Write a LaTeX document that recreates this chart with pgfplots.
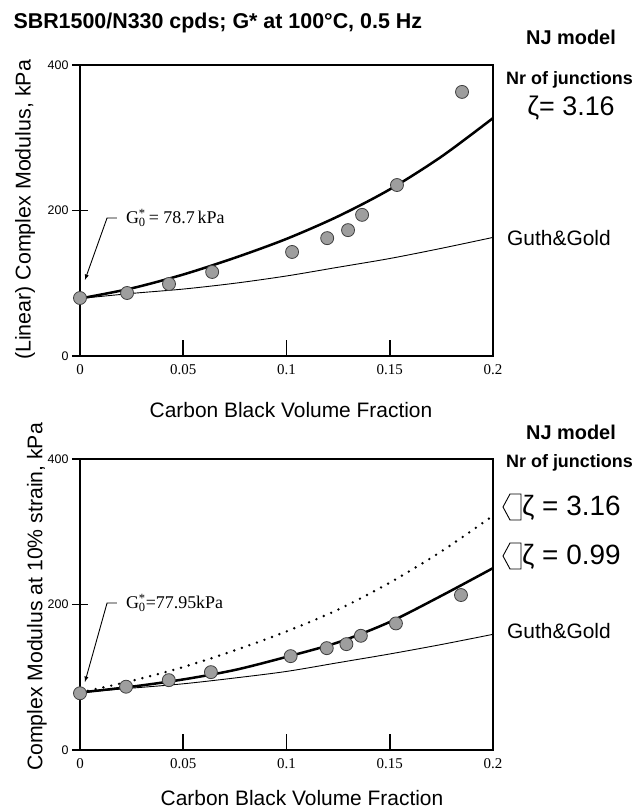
\documentclass[border=0pt]{standalone}
\usepackage{fontspec}
\setmainfont{Liberation Sans}
\newfontfamily\serif{Liberation Serif}
\usepackage{pgfplots}
\pgfplotsset{compat=1.18}

\pgfplotsset{
  cbaxis/.style={
    scale only axis, width=413bp, height=291bp,
    xmin=0, xmax=0.2, ymin=0, ymax=400,
    axis line style={line width=2.2bp},
    xtick={0,0.05,0.1,0.15,0.2}, xticklabels={0,0.05,0.1,0.15,0.2},
    ytick={0,200,400},
    tickpos=left, tick align=inside, ytick align=center,
    major tick length=16bp,
    tick style={black, line width=1.8bp},
    /pgf/number format/assume math mode=true,
    xticklabel style={font=\serif\fontsize{15}{15}\selectfont, yshift=-5bp},
    yticklabel style={font=\fontsize{12.5}{12.5}\selectfont},
    clip=false,
  },
  nj/.style={black, line width=2.5bp, smooth, no marks},
  gg/.style={black, line width=0.9bp, smooth, no marks},
  dat/.style={only marks, mark=*, mark size=6.5bp,
    mark options={fill=black!38, draw=black!75, line width=0.8bp}},
}

\begin{document}
\begin{tikzpicture}
\useasboundingbox (0,0) rectangle (637bp,810bp);

% top: linear complex modulus
\begin{axis}[cbaxis, at={(80bp,454bp)}, anchor=south west]
  \addplot[gg] coordinates {(0,79) (0.025,86) (0.05,92) (0.075,100) (0.1,110)
    (0.125,122) (0.15,134) (0.175,148) (0.2,163)};
  \addplot[nj] coordinates {(0,79) (0.025,93) (0.05,112) (0.075,135) (0.1,161)
    (0.125,192) (0.15,229) (0.175,274) (0.2,327)};
  \addplot[dat] coordinates {(0,79.7) (0.0228,86.6) (0.0431,99) (0.064,115.5)
    (0.1027,143) (0.1197,162) (0.1298,173) (0.1366,194) (0.1535,235) (0.185,363)};
  \pgfplotsinvokeforeach{0.05,0.1,0.15}{
    \draw[line width=1.8bp] (axis cs:#1,0) -- ([yshift=16bp]axis cs:#1,0);}
  \draw[line width=1.8bp] (axis cs:0,200) -- ([xshift=8bp]axis cs:0,200);
  \draw[-latex, line width=0.9bp] (axis cs:0.0179,189.7) -- (axis cs:0.0131,189.7)
    -- (axis cs:0.0024,104.5);
  \node[anchor=west, inner sep=0, font=\serif\fontsize{18}{18}\selectfont]
    at (axis cs:0.0222,189.7) {G\rlap{\textsuperscript{*}}\textsubscript{0}\,= 78.7\,kPa};
\end{axis}

% bottom: complex modulus at 10% strain
\begin{axis}[cbaxis, at={(80bp,60bp)}, anchor=south west]
  \addplot[gg] coordinates {(0,79) (0.025,85) (0.05,91) (0.075,99) (0.1,108)
    (0.125,120) (0.15,132) (0.175,145) (0.2,159)};
  \addplot[black, line width=2.7bp, smooth, no marks, line cap=round,
    dash pattern=on 0bp off 8bp] coordinates {(0,79) (0.025,95) (0.05,114)
    (0.075,137) (0.1,163) (0.125,193) (0.15,230) (0.175,273) (0.2,322)};
  \addplot[nj] coordinates {(0,79) (0.025,87) (0.05,97) (0.075,110) (0.1,128)
    (0.125,148) (0.15,176) (0.175,212) (0.2,250)};
  \addplot[dat] coordinates {(0,78) (0.0223,87) (0.043,96) (0.0634,107)
    (0.102,129) (0.1195,140) (0.129,145.5) (0.136,157) (0.153,174) (0.1845,213)};
  \pgfplotsinvokeforeach{0.05,0.1,0.15}{
    \draw[line width=1.8bp] (axis cs:#1,0) -- ([yshift=16bp]axis cs:#1,0);}
  \draw[line width=1.8bp] (axis cs:0,200) -- ([xshift=8bp]axis cs:0,200);
  \draw[-latex, line width=0.9bp] (axis cs:0.0179,202) -- (axis cs:0.0131,202)
    -- (axis cs:0.0024,93.5);
  \node[anchor=west, inner sep=0, font=\serif\fontsize{18}{18}\selectfont]
    at (axis cs:0.0222,202) {G\rlap{\textsuperscript{*}}\textsubscript{0}=77.95kPa};
\end{axis}

% titles and labels
\node[anchor=west, font=\fontsize{21.5}{24}\selectfont\bfseries]
  at (10bp,787bp) {SBR1500/N330 cpds; G* at 100°C, 0.5 Hz};
\node[font=\fontsize{21}{24}\selectfont] at (291bp,400bp) {Carbon Black Volume Fraction};
\node[font=\fontsize{21}{24}\selectfont] at (302bp,12bp) {Carbon Black Volume Fraction};
\node[rotate=90, font=\fontsize{21.5}{24}\selectfont] at (25bp,600bp) {(Linear) Complex Modulus, kPa};
\node[rotate=90, font=\fontsize{21.3}{24}\selectfont] at (37bp,213bp) {Complex Modulus at 10\% strain, kPa};

% right-hand notes, top
\node[font=\fontsize{20}{24}\selectfont\bfseries] at (571bp,773bp) {NJ model};
\node[anchor=west, inner sep=0, font=\fontsize{18}{20}\selectfont\bfseries] at (506bp,730bp) {Nr of junctions};
\node[font=\fontsize{27}{30}\selectfont] at (571bp,702bp) {ζ= 3.16};
\node[anchor=west, inner sep=0, font=\fontsize{21}{24}\selectfont] at (507bp,572bp) {Guth\&Gold};

% right-hand notes, bottom
\node[font=\fontsize{20}{24}\selectfont\bfseries] at (571bp,378bp) {NJ model};
\node[anchor=west, inner sep=0, font=\fontsize{18}{20}\selectfont\bfseries] at (506bp,347bp) {Nr of junctions};
\draw[line width=0.9bp] (521bp,316bp)--(510bp,316bp)--(503bp,303bp)--(510bp,290bp)--(521bp,290bp)--cycle;
\node[anchor=west, inner sep=0, font=\fontsize{28}{30}\selectfont] at (522bp,302bp) {ζ = 3.16};
\draw[line width=0.9bp] (521bp,267bp)--(510bp,267bp)--(503bp,254bp)--(510bp,241bp)--(521bp,241bp)--cycle;
\node[anchor=west, inner sep=0, font=\fontsize{28}{30}\selectfont] at (522bp,253bp) {ζ = 0.99};
\node[anchor=west, inner sep=0, font=\fontsize{21}{24}\selectfont] at (507bp,179bp) {Guth\&Gold};
\end{tikzpicture}
\end{document}
